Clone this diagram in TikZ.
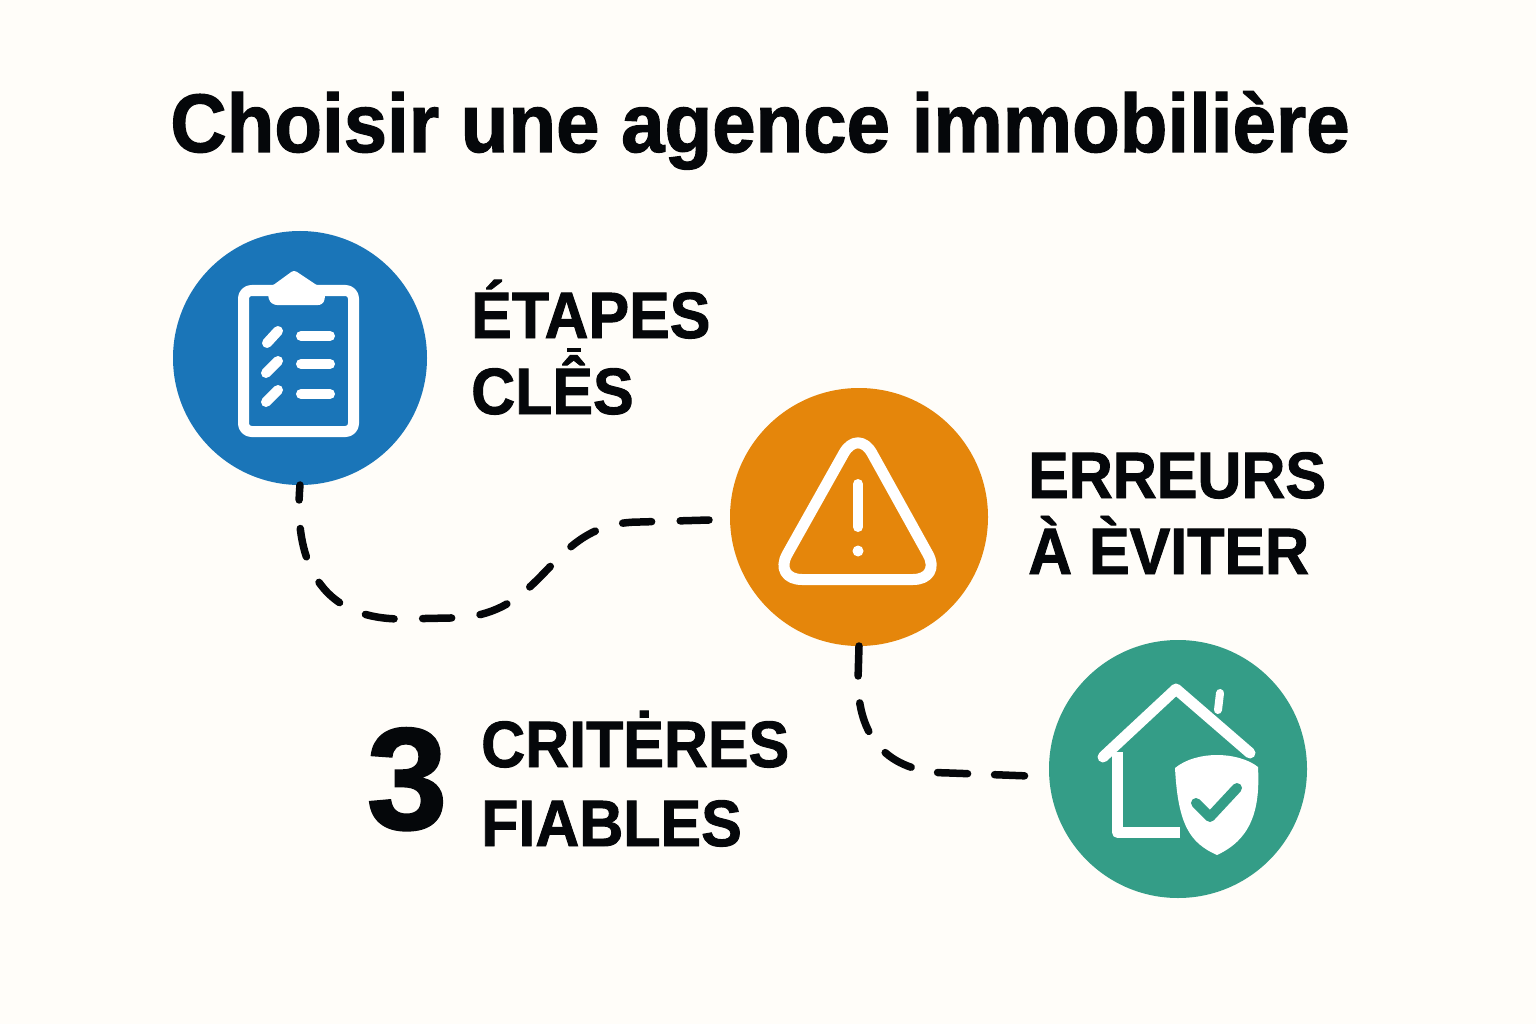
\documentclass[tikz,border=0pt]{standalone}
\usepackage{fontspec}
\setmainfont{Liberation Sans}
\newfontfamily\labfont[BoldFeatures={FakeStretch=0.93,FakeBold=1.4}]{Liberation Sans}
\newfontfamily\titfont[BoldFeatures={FakeStretch=0.94,FakeBold=1.4}]{Liberation Sans}
\newfontfamily\numfont[BoldFeatures={FakeBold=1.4}]{Liberation Sans}
\definecolor{bgc}{HTML}{FFFDF9}
\definecolor{bluec}{HTML}{1A75B8}
\definecolor{orangec}{HTML}{E5860B}
\definecolor{greenc}{HTML}{349D87}
\definecolor{inkc}{HTML}{05070A}
\tikzset{
  disc/.style={circle,inner sep=0pt,minimum size=#1,outer sep=0pt},
  label/.style={anchor=base west,inner sep=0pt,font=\labfont\fontsize{65.5}{66}\selectfont\bfseries,text=inkc},
  link/.style={draw=inkc,line width=7.5pt,line cap=round,dash pattern=on 29pt off 28.6pt},
  icon/.style={draw=white,line cap=round,line join=round},
}
\begin{document}
\begin{tikzpicture}[x=1pt,y=-1pt]
\useasboundingbox (0,0) rectangle (1536,1024);
\fill[bgc] (0,0) rectangle (1536,1024);
\node[anchor=base,inner sep=0pt,font=\titfont\fontsize{83}{83}\selectfont\bfseries,text=inkc] (title) at (760,152) {Choisir une agence immobilière};
\node[disc=254pt,fill=bluec] (blue) at (300,358) {};
\node[disc=258pt,fill=orangec] (orange) at (859,517) {};
\node[disc=258pt,fill=greenc] (green) at (1178,769) {};
\coordinate (oend) at (709,520);
\coordinate (gend) at (1029,776);
\draw[link,dash phase=14pt] (blue.south) .. controls (296,530) and (300,618) .. (400,619) -- (450,618) .. controls (550,618) and (545,522) .. (640,522) -- (oend);
\draw[link,dash pattern=on 30pt off 27pt] (orange.south) -- (858,680) .. controls (858,735) and (885,773) .. (950,773) -- (gend);
% clipboard
\draw[icon,line width=11pt,rounded corners=8pt] (243.5,290.5) rectangle (353.5,431.5);
\fill[white,rounded corners=3pt] (294,270) -- (318,286) -- (326,286) -- (325,296) .. controls (324,304) and (320,305) .. (315,305) -- (280,305) .. controls (274,305) and (270,303) .. (268,296) -- (268,286) -- (272,286) -- cycle;
\draw[icon,line width=10pt] (267,343) -- (278,331) (266,373) -- (278,361) (266,402) -- (278,390);
\draw[icon,line width=10pt] (301,336) -- (330,336) (301,364) -- (330,364) (301,394) -- (330,394);
% warning
\draw[icon,line width=11pt,rounded corners=29pt] (858,428) -- (773,579.5) -- (942,579.5) -- cycle;
\draw[icon,line width=10pt] (858,484) -- (858,527);
\fill[white] (858,551) circle (5.5pt);
% house
\draw[icon,line width=11pt] (1103,757) -- (1176,689) -- (1250,753);
\draw[icon,line width=11pt,line cap=butt,line join=round] (1117.5,752) -- (1117.5,832.5) -- (1180,832.5);
\draw[icon,line width=8pt] (1220,693) -- (1218,710);
\fill[white] (1217,755) .. controls (1232,755) and (1248,759) .. (1258,767) .. controls (1260,805) and (1254,838) .. (1217,855) .. controls (1190,843) and (1178,825) .. (1175,768) .. controls (1186,759) and (1202,755) .. (1217,755) -- cycle;
\draw[draw=greenc,line width=10pt,line cap=round,line join=round] (1196,803) -- (1210,817) -- (1237,788);
% labels
\node[label] (l1) at (471,338) {ÉTAPES};
\node[label] (l2) at (471,414) {CLÊS};
\fill[inkc] (567,348) rectangle (581,351.5);
\node[label] (l3) at (1028,498) {ERREURS};
\node[label] (l4) at (1028,574) {À ÈVITER};
\node[label] (l5) at (481,767) {CRITĖRES};
\node[label] (l6) at (481,846) {FIABLES};
\node[anchor=base,inner sep=0pt,font=\numfont\fontsize{145}{145}\selectfont\bfseries,text=inkc] (three) at (407,829) {3};
\end{tikzpicture}
\end{document}
